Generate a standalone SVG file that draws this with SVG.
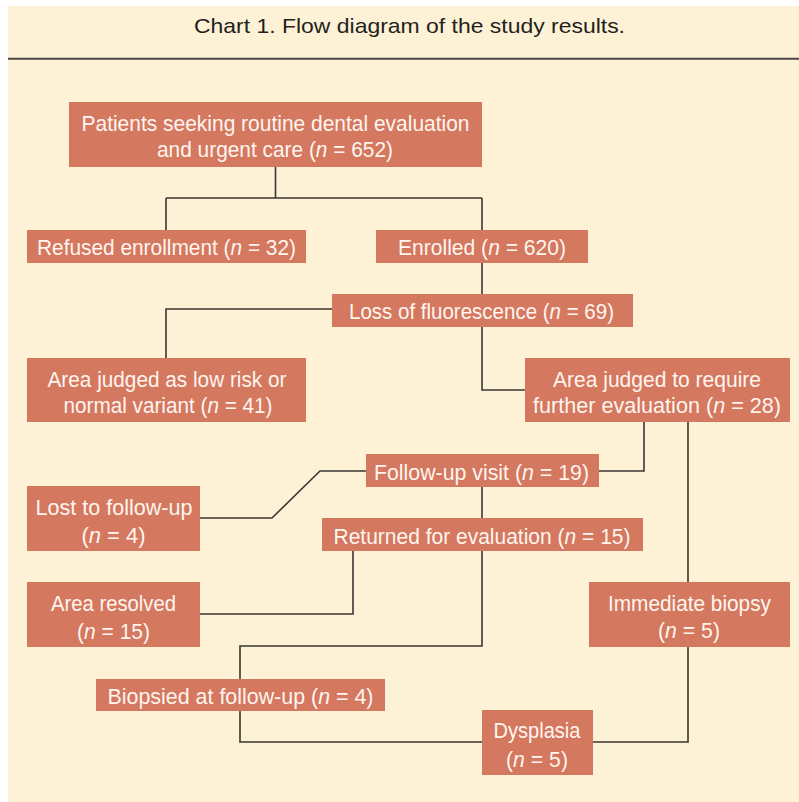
<svg xmlns="http://www.w3.org/2000/svg" width="799" height="802" viewBox="0 0 799 802">
<style>
.box{fill:#D47860}
.t{font-family:"Liberation Sans Narrow","Liberation Sans",Arial,sans-serif;font-size:22.5px;fill:#FFF5EE;text-anchor:middle}
.title{font-family:"Liberation Sans Narrow","Liberation Sans",Arial,sans-serif;font-size:21px;fill:#231F20;text-anchor:middle}
.i{font-style:italic}
.c{fill:none;stroke:#3a3632;stroke-width:1.6}
</style>
<rect x="8" y="6" width="791" height="796" fill="#FEF2D6"/>
<text class="title" x="409.5" y="33" textLength="431" lengthAdjust="spacingAndGlyphs">Chart 1. Flow diagram of the study results.</text>
<line x1="8" y1="58.7" x2="799" y2="58.7" stroke="#4a4744" stroke-width="2"/>
<g id="connectors">
<path class="c" d="M275.5,167 V198 M166,198 H482 M166,198 V230 M482,198 V230"/>
<path class="c" d="M482,263 V294"/>
<path class="c" d="M332,309 H166 V358"/>
<path class="c" d="M482,327 V390 H525"/>
<path class="c" d="M644,422 V471 H599"/>
<path class="c" d="M366,471 H320 L272,518 H200"/>
<path class="c" d="M482,487 V518"/>
<path class="c" d="M353,551 V614 H200"/>
<path class="c" d="M482,551 V646 H240 V742 H482"/>
<path class="c" d="M688,422 V582"/>
<path class="c" d="M688,647 V742 H593"/>
</g>
<g id="patients">
<rect class="box" x="69" y="102" width="413" height="65"/>
<text class="t" x="275.5" y="131" textLength="388" lengthAdjust="spacingAndGlyphs">Patients seeking routine dental evaluation</text>
<text class="t" x="275" y="157" textLength="236" lengthAdjust="spacingAndGlyphs">and urgent care (<tspan class="i">n</tspan> = 652)</text>
</g>
<g id="refused">
<rect class="box" x="27" y="230" width="279" height="33"/>
<text class="t" x="166.5" y="255" textLength="259" lengthAdjust="spacingAndGlyphs">Refused enrollment (<tspan class="i">n</tspan> = 32)</text>
</g>
<g id="enrolled">
<rect class="box" x="376" y="230" width="212" height="33"/>
<text class="t" x="482" y="255" textLength="168" lengthAdjust="spacingAndGlyphs">Enrolled (<tspan class="i">n</tspan> = 620)</text>
</g>
<g id="loss">
<rect class="box" x="332" y="294" width="301" height="33"/>
<text class="t" x="481.5" y="319" textLength="265" lengthAdjust="spacingAndGlyphs">Loss of fluorescence (<tspan class="i">n</tspan> = 69)</text>
</g>
<g id="lowrisk">
<rect class="box" x="27" y="358" width="279" height="64"/>
<text class="t" x="167" y="387" textLength="239" lengthAdjust="spacingAndGlyphs">Area judged as low risk or</text>
<text class="t" x="168" y="413" textLength="209" lengthAdjust="spacingAndGlyphs">normal variant (<tspan class="i">n</tspan> = 41)</text>
</g>
<g id="require">
<rect class="box" x="525" y="358" width="265" height="64"/>
<text class="t" x="657" y="387" textLength="208" lengthAdjust="spacingAndGlyphs">Area judged to require</text>
<text class="t" x="657" y="413" textLength="248" lengthAdjust="spacingAndGlyphs">further evaluation (<tspan class="i">n</tspan> = 28)</text>
</g>
<g id="followup">
<rect class="box" x="366" y="454" width="233" height="33"/>
<text class="t" x="481.5" y="480" textLength="215" lengthAdjust="spacingAndGlyphs">Follow-up visit (<tspan class="i">n</tspan> = 19)</text>
</g>
<g id="lost">
<rect class="box" x="27" y="486" width="173" height="65"/>
<text class="t" x="114" y="515" textLength="157" lengthAdjust="spacingAndGlyphs">Lost to follow-up</text>
<text class="t" x="113.5" y="543" textLength="64" lengthAdjust="spacingAndGlyphs">(<tspan class="i">n</tspan> = 4)</text>
</g>
<g id="returned">
<rect class="box" x="322" y="518" width="321" height="33"/>
<text class="t" x="482" y="544" textLength="297" lengthAdjust="spacingAndGlyphs">Returned for evaluation (<tspan class="i">n</tspan> = 15)</text>
</g>
<g id="resolved">
<rect class="box" x="27" y="582" width="173" height="65"/>
<text class="t" x="113.5" y="611" textLength="125" lengthAdjust="spacingAndGlyphs">Area resolved</text>
<text class="t" x="113.5" y="639" textLength="73" lengthAdjust="spacingAndGlyphs">(<tspan class="i">n</tspan> = 15)</text>
</g>
<g id="immediate">
<rect class="box" x="589" y="582" width="201" height="65"/>
<text class="t" x="689.5" y="611" textLength="163" lengthAdjust="spacingAndGlyphs">Immediate biopsy</text>
<text class="t" x="689" y="638" textLength="62" lengthAdjust="spacingAndGlyphs">(<tspan class="i">n</tspan> = 5)</text>
</g>
<g id="biopsied">
<rect class="box" x="96" y="679" width="289" height="32"/>
<text class="t" x="240.5" y="704" textLength="266" lengthAdjust="spacingAndGlyphs">Biopsied at follow-up (<tspan class="i">n</tspan> = 4)</text>
</g>
<g id="dysplasia">
<rect class="box" x="482" y="710" width="111" height="65"/>
<text class="t" x="537" y="738" textLength="87" lengthAdjust="spacingAndGlyphs">Dysplasia</text>
<text class="t" x="537" y="767" textLength="62" lengthAdjust="spacingAndGlyphs">(<tspan class="i">n</tspan> = 5)</text>
</g>
</svg>
